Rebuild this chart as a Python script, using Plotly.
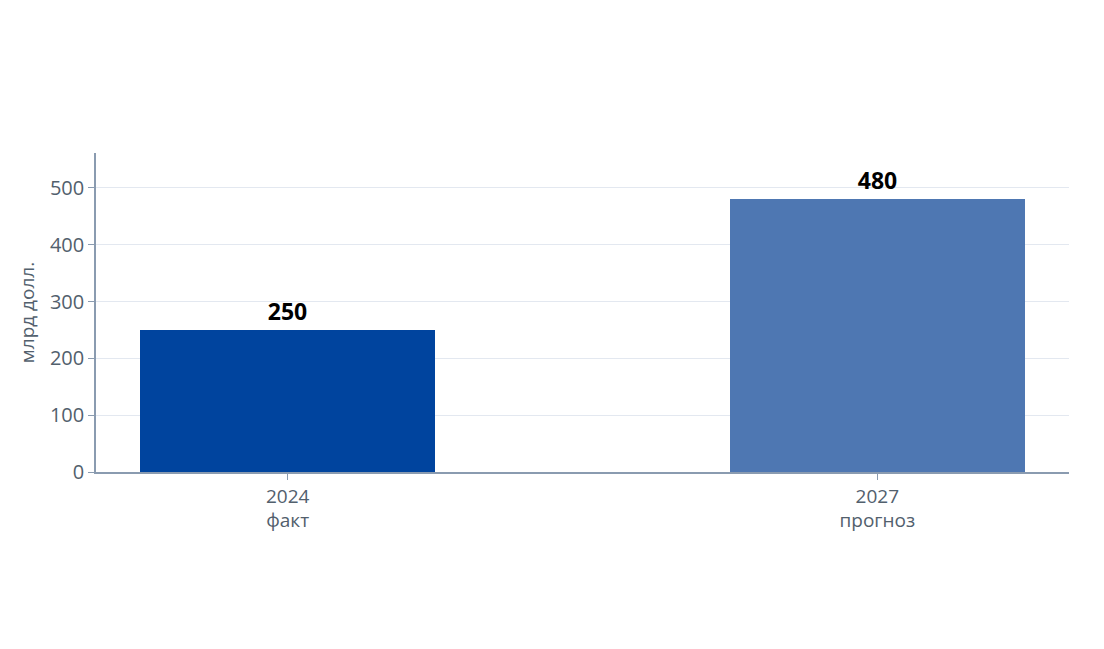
import plotly.graph_objects as go

categories = ["2024<br>факт", "2027<br>прогноз"]
values = [250, 480]
labels = ["250", "480"]
colors = ["#00449e", "#4e77b2"]

fig = go.Figure(go.Bar(
    x=categories, y=values, text=labels, textposition="outside",
    marker=dict(color=colors, line=dict(width=0)),
    width=0.5, cliponaxis=False,
    textfont=dict(family="Open Sans", size=23, color="#000000", weight="bold"),
))

fig.update_layout(
    width=1104, height=649,
    margin=dict(l=88, r=43, t=145, b=185),
    paper_bgcolor="white", plot_bgcolor="white",
    font=dict(family="Open Sans", size=20, color="#52606d"),
    showlegend=False,
    bargap=0,
)
fig.update_xaxes(
    range=[-0.325, 1.325], showline=True, linecolor="#8a9bb0", linewidth=1.5,
    ticks="outside", ticklen=6, tickcolor="#8a9bb0", showgrid=False,
    tickfont=dict(size=19, color="#52606d"),
)
fig.update_yaxes(
    range=[0, 561.6], showline=True, linecolor="#8a9bb0", linewidth=1.5,
    ticks="outside", ticklen=6, tickcolor="#8a9bb0",
    showgrid=True, gridcolor="#e3e8f0", gridwidth=1, zeroline=False,
    tickvals=[0, 100, 200, 300, 400, 500],
    tickfont=dict(size=20, color="#52606d"),
    title=dict(text="млрд долл.", font=dict(size=19, color="#52606d"), standoff=10),
)

fig.write_html("out.html")
